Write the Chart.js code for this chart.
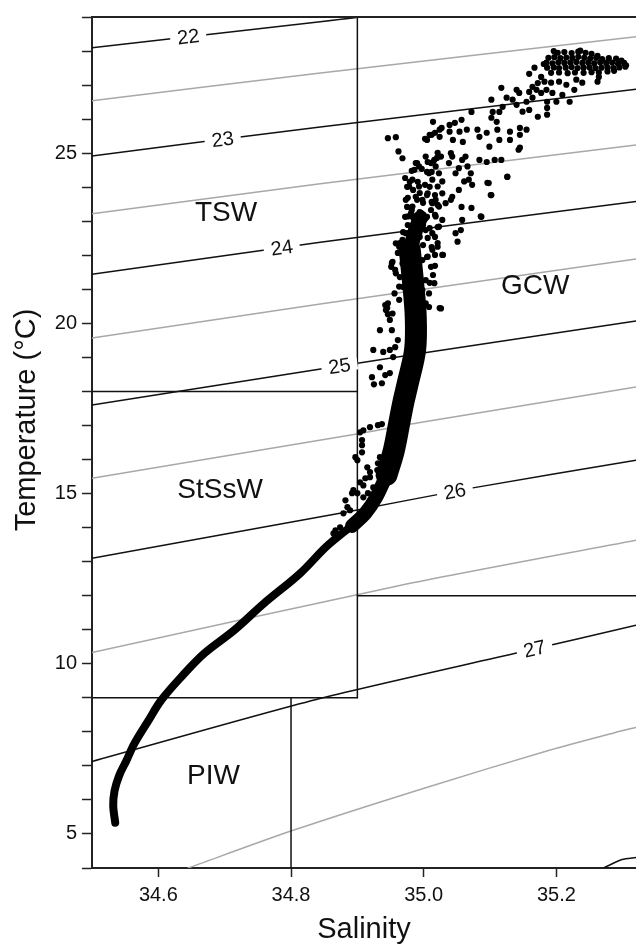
<!DOCTYPE html>
<html>
<head>
<meta charset="utf-8">
<script src="https://cdn.jsdelivr.net/npm/chart.js@4.4.1/dist/chart.umd.min.js"></script>
<style>
  html, body { margin: 0; padding: 0; background: #fff; overflow: hidden; }
  canvas { display: block; }
</style>
</head>
<body>
<canvas id="ts" width="636" height="946"></canvas>
<script>
// axis ticks
const xTickValues = [34.6, 34.8, 35.0, 35.2];
const yTickValues = [4, 5, 6, 7, 8, 9, 10, 11, 12, 13, 14, 15, 16, 17, 18, 19, 20, 21, 22, 23, 24, 25, 26, 27, 28, 29];
const yTickLabels = [5, 10, 15, 20, 25];

// sigma-t isopycnals (salinity, temperature)
const sigmaLevels = [22, 22.5, 23, 23.5, 24, 24.5, 25, 25.5, 26, 26.5, 27, 27.5, 28];
const sigmaSal = [
  [34.5, 34.672, 34.844, 34.903, 34.934],
  [34.5, 34.838, 35.32],
  [34.5, 34.844, 35.32],
  [34.5, 34.844, 35.32],
  [34.5, 34.844, 35.32],
  [34.5, 34.844, 35.32],
  [34.5, 34.835, 35.009, 35.32],
  [34.5, 34.897, 34.990, 35.32],
  [34.5, 34.882, 35.072, 35.32],
  [34.5, 34.964, 35.32],
  [34.5, 34.838, 35.143, 35.32],
  [34.645, 34.802, 35.003, 35.188, 35.289, 35.32],
  [35.271, 35.299, 35.32]
];
const sigmaTemp = [
  [28.10, 28.48, 28.86, 29.00, 29.10],
  [26.54, 27.34, 28.42],
  [24.92, 25.77, 26.88],
  [23.22, 24.10, 25.24],
  [21.44, 22.38, 23.58],
  [19.57, 20.57, 21.89],
  [17.60, 18.63, 19.16, 20.07],
  [15.45, 16.74, 17.07, 18.13],
  [13.10, 14.45, 15.16, 15.98],
  [10.33, 12.30, 13.63],
  [7.13, 8.95, 10.33, 11.13],
  [4.00, 5.10, 6.36, 7.45, 7.98, 8.13],
  [4.00, 4.25, 4.31]
];
const labelLevels = [22, 23, 24, 25, 26, 27];
const labelSal = [34.645, 34.697, 34.786, 34.873, 35.047, 35.167];

// water mass boundaries
const boxSal = [[34.9, 34.9], [34.5, 34.9], [34.5, 34.9], [34.8, 34.8], [34.9, 35.32]];
const boxTemp = [[9, 29], [18, 18], [9, 9], [4, 9], [12, 12]];
const regionNames = ['TSW', 'StSsW', 'PIW', 'GCW'];
const regionSal = [34.702, 34.693, 34.683, 35.168];
const regionTemp = [23.22, 15.09, 6.70, 21.10];

// dense core of the CTD profile
const bandLowSal = [34.535, 34.532, 34.534, 34.541, 34.552, 34.564, 34.585, 34.604, 34.634, 34.669, 34.714, 34.759, 34.814, 34.852, 34.877, 34.895];
const bandLowTemp = [5.33, 5.83, 6.27, 6.72, 7.16, 7.66, 8.33, 8.92, 9.60, 10.30, 10.98, 11.77, 12.66, 13.42, 13.83, 14.10];
const bandJoinSal = [34.892, 34.912, 34.928, 34.942];
const bandJoinTemp = [14.05, 14.42, 14.88, 15.45];
const bandMidSal = [34.944, 34.955, 34.964, 34.970, 34.976, 34.987, 34.988, 34.984, 34.979];
const bandMidTemp = [15.55, 16.27, 17.16, 17.74, 18.24, 19.22, 20.19, 21.19, 22.16];
const bandTopSal = [34.979, 34.987, 34.995];
const bandTopTemp = [22.10, 22.70, 23.10];

// scattered CTD samples [salinity, temperature]
const ctdProfile = [
  // warm surface cluster
  [35.202,27.95],[35.212,27.97],[35.223,27.94],[35.233,27.98],[35.244,27.95],[35.253,27.92],
  [35.188,27.80],[35.197,27.82],[35.206,27.79],[35.215,27.81],[35.224,27.80],[35.233,27.83],[35.242,27.80],[35.251,27.78],[35.260,27.80],[35.269,27.76],[35.279,27.79],[35.290,27.78],
  [35.185,27.66],[35.194,27.64],[35.203,27.67],[35.212,27.65],[35.221,27.66],[35.230,27.68],[35.239,27.65],[35.248,27.66],[35.257,27.64],[35.266,27.67],[35.275,27.65],[35.284,27.66],[35.293,27.63],[35.302,27.65],
  [35.186,27.51],[35.196,27.52],[35.204,27.50],[35.214,27.51],[35.223,27.53],[35.232,27.50],[35.241,27.51],[35.250,27.52],[35.259,27.50],[35.268,27.51],[35.277,27.52],[35.286,27.50],[35.295,27.52],[35.304,27.54],
  [35.192,27.36],[35.204,27.37],[35.217,27.35],[35.228,27.37],[35.241,27.36],[35.253,27.38],[35.264,27.37],[35.277,27.40],[35.287,27.42],
  [35.181,27.62],[35.305,27.58],[35.298,27.72],[35.196,28.00],[35.236,28.01],[35.262,27.86],
  // 23 - 27 degC spread
  [35.159,27.33],[35.167,27.51],[35.177,27.24],[35.172,27.06],[35.164,26.95],[35.182,27.10],[35.192,27.07],[35.204,27.10],[35.215,27.01],[35.230,27.16],[35.239,27.07],[35.264,27.24],[35.262,27.10],
  [35.117,26.92],[35.140,26.86],[35.144,26.77],[35.159,26.80],[35.170,26.86],[35.177,26.77],[35.185,26.86],[35.194,26.77],[35.209,26.71],[35.227,26.86],[35.220,26.51],[35.186,26.51],[35.200,26.51],[35.164,26.63],[35.155,26.51],[35.134,26.57],[35.125,26.63],[35.102,26.57],
  [35.119,26.36],[35.140,26.42],[35.149,26.22],[35.159,26.27],[35.172,26.07],[35.186,26.13],[35.186,26.33],[35.114,26.21],[35.104,26.21],[35.102,26.04],[35.110,25.92],[35.072,26.21],[35.057,25.98],[35.047,25.89],[35.039,25.83],[35.014,25.92],[35.027,25.74],[35.039,25.63],[35.054,25.63],[35.065,25.69],[35.081,25.69],[35.095,25.60],[35.111,25.69],[35.114,25.39],[35.130,25.63],[35.145,25.74],[35.145,25.54],[35.155,25.69],[35.130,25.39],[35.005,25.39],[35.012,25.54],[35.024,25.48],[35.044,25.39],[35.059,25.33],[35.084,25.48],[35.099,25.19],[35.145,25.16],
  [34.946,25.44],[34.958,25.47],[34.962,25.05],[34.968,24.85],
  [35.143,25.10],[35.126,24.31],[35.098,24.12],[35.101,23.77],[35.086,23.14],[35.058,23.04],[35.048,22.65],[35.056,22.74],[35.051,22.40],[35.028,22.01],
  [34.988,24.71],[34.986,24.51],[34.993,24.61],[34.983,24.22],[35.003,24.90],[35.011,24.71],[35.016,24.80],[35.018,24.61],[35.023,24.41],[35.026,24.90],[35.008,24.41],[35.013,24.22],[35.021,24.02],[35.028,24.17],[35.038,24.71],[35.041,25.00],[35.043,24.90],[35.048,24.41],[35.053,24.56],[35.058,24.80],[35.063,24.90],[35.066,24.61],[35.071,24.41],[35.073,24.07],[35.068,24.22],[35.061,24.17],[35.053,23.92],[35.043,23.72],[35.041,23.63],[35.033,23.53],[35.028,23.82],[35.023,23.43],[35.018,23.63],[35.013,23.53],[35.006,23.82],[34.998,23.63],[34.993,24.02],[34.988,23.72],[34.978,24.02],[34.983,23.43],[34.976,23.14],[34.973,23.63],[34.981,23.24],[34.988,23.14],[34.996,23.24],[35.003,23.09],[35.011,23.33],[35.018,23.14],[35.023,22.84],[35.028,23.04],[35.013,22.65],[35.003,22.74],[34.993,22.65],[34.983,22.74],[34.973,22.65],[34.968,22.45],[34.963,22.25],[34.958,22.35],
  [35.002,25.42],[35.009,25.54],[35.017,25.60],[35.024,25.69],[35.006,24.74],[35.014,24.74],[35.020,24.86],[35.021,25.01],[34.990,24.71],[34.982,24.48],[34.997,24.54],[35.005,24.45],[35.012,24.45],[34.972,24.27],[34.979,24.16],[34.991,24.16],[35.002,24.07],[35.009,24.01],[34.975,24.01],[34.984,23.92],[34.994,23.83],[35.005,23.77],[35.017,23.77],[34.976,23.69],[34.990,23.63],[34.999,23.54],[35.012,23.57],[35.021,23.48],[34.975,23.42],[34.982,23.33],[34.994,23.27],[34.972,23.13],[34.984,23.10],[35.005,23.13],[35.017,23.19],[34.976,22.89],[34.990,22.83],[34.999,22.89],[35.009,22.80],[35.021,22.83],[34.969,22.68],[34.982,22.60],[34.994,22.54],[35.006,22.51],[35.017,22.54],[34.964,22.36],[34.975,22.30],[34.987,22.24],[34.999,22.30],[35.012,22.24],[35.021,22.36],[34.961,22.07],[34.975,22.01],[34.987,21.95],[35.005,21.95],[35.017,22.01],
  [35.084,24.80],[35.095,24.74],[35.107,24.80],[35.117,24.80],[35.126,24.30],[35.096,24.13],[35.102,23.77],[35.072,23.39],[35.087,23.13],[35.057,23.42],
  // 20 - 22 degC
  [34.953,21.81],[34.951,21.66],[34.958,21.47],[34.968,21.76],[34.973,22.06],[34.978,21.66],[34.988,22.06],[34.998,21.86],[35.006,21.96],[35.013,22.16],[35.021,22.25],[35.011,21.66],[35.016,21.18],[35.003,21.27],[34.988,21.27],[34.973,21.18],[34.963,21.08],[34.956,20.88],[34.946,20.59],[34.943,20.39],[34.953,20.29],[34.963,20.69],[34.978,20.78],[34.988,20.88],[34.998,20.98],[35.008,20.88],[35.026,20.44],[35.003,20.59],
  // left of the core, 18 - 22 degC
  [34.934,19.80],[34.952,19.80],[34.924,19.22],[34.939,19.16],[34.949,19.22],[34.954,19.01],[34.934,18.71],[34.942,18.48],[34.922,18.42],[34.925,18.21],[34.937,18.24],[34.949,18.54],[34.957,19.30],[34.961,19.51],[34.945,20.45],[34.946,20.27],[34.949,20.10],[34.942,20.54],[34.952,21.77],[34.957,21.57],[34.964,21.36],[34.969,21.07],[35.008,20.48],[35.024,20.45],[35.029,22.01],[35.014,21.42],[35.009,21.19],[35.017,21.69],
  // loops near 34.9, 14 - 17 degC
  [34.904,16.80],[34.909,16.86],[34.919,16.95],[34.931,17.01],[34.937,17.04],[34.907,16.57],[34.907,16.42],[34.907,16.21],[34.897,16.07],[34.900,15.98],[34.915,15.77],[34.919,15.63],[34.912,15.45],[34.904,15.33],[34.909,15.24],[34.919,15.48],[34.894,15.10],[34.892,15.01],[34.882,14.80],[34.885,14.60],[34.889,14.51],[34.879,14.42],[34.867,13.92],[34.864,13.83],[34.874,14.01],[34.931,15.89],[34.930,15.69],[34.934,16.07],[34.916,15.01],[34.909,14.89],[34.900,15.01],[34.924,15.18]
];

const FONT = '"Liberation Sans", Arial, Helvetica, sans-serif';
Chart.defaults.font.family = FONT;

function lineSet(sal, temp, width, color, order, tension) {
  return {
    data: sal.map((s, i) => ({ x: s, y: temp[i] })),
    showLine: true,
    borderColor: color,
    borderWidth: width,
    pointRadius: 0,
    pointHoverRadius: 0,
    tension: tension,
    borderCapStyle: 'round',
    borderJoinStyle: 'round',
    fill: false,
    order: order
  };
}

const datasets = [];
datasets.push({
  data: ctdProfile.map(p => ({ x: p[0], y: p[1] })),
  showLine: false,
  pointRadius: 3.1,
  pointHoverRadius: 3.1,
  pointBackgroundColor: '#000',
  pointBorderWidth: 0,
  order: 0
});
datasets.push(lineSet(bandLowSal, bandLowTemp, 8, '#000', 1, 0.35));
datasets.push(lineSet(bandJoinSal, bandJoinTemp, 14, '#000', 1, 0.3));
datasets.push(lineSet(bandMidSal, bandMidTemp, 22, '#000', 1, 0.35));
datasets.push(lineSet(bandTopSal, bandTopTemp, 15, '#000', 1, 0.3));
boxSal.forEach((s, i) => datasets.push(lineSet(s, boxTemp[i], 1.5, '#111', 2, 0)));
sigmaLevels.forEach((lev, i) => {
  const major = Number.isInteger(lev);
  datasets.push(lineSet(sigmaSal[i], sigmaTemp[i], 1.5, major ? '#111' : '#a8a8a8', 3, 0.25));
});

const annotate = {
  id: 'annotate',
  afterDatasetsDraw(chart) {
    const { ctx, chartArea, scales: { x, y } } = chart;
    ctx.save();
    // top frame line
    ctx.strokeStyle = '#222';
    ctx.lineWidth = 2;
    ctx.beginPath();
    ctx.moveTo(chartArea.left, chartArea.top);
    ctx.lineTo(chartArea.right, chartArea.top);
    ctx.stroke();

    // isopycnal labels
    ctx.font = '20px ' + FONT;
    ctx.textAlign = 'center';
    ctx.textBaseline = 'middle';
    labelLevels.forEach((lev, k) => {
      const i = sigmaLevels.indexOf(lev);
      const sArr = sigmaSal[i], tArr = sigmaTemp[i];
      const s = labelSal[k];
      let j = 0;
      while (j < sArr.length - 2 && sArr[j + 1] < s) j++;
      const f = (s - sArr[j]) / (sArr[j + 1] - sArr[j]);
      const t = tArr[j] + f * (tArr[j + 1] - tArr[j]);
      const px = x.getPixelForValue(s), py = y.getPixelForValue(t);
      const ang = Math.atan2(
        y.getPixelForValue(tArr[j + 1]) - y.getPixelForValue(tArr[j]),
        x.getPixelForValue(sArr[j + 1]) - x.getPixelForValue(sArr[j]));
      const txt = String(lev);
      const w = ctx.measureText(txt).width + 14;
      ctx.save();
      ctx.translate(px, py);
      ctx.rotate(ang);
      ctx.fillStyle = '#fff';
      ctx.fillRect(-w / 2, -6, w, 12);
      ctx.fillStyle = '#111';
      ctx.fillText(txt, 0, 1);
      ctx.restore();
    });

    // water mass names
    ctx.font = '28px ' + FONT;
    ctx.fillStyle = '#111';
    regionNames.forEach((name, i) => {
      ctx.fillText(name, x.getPixelForValue(regionSal[i]), y.getPixelForValue(regionTemp[i]));
    });

    // y axis title, sits a little above the middle of the axis
    ctx.font = '29px ' + FONT;
    ctx.translate(26.5, 420);
    ctx.rotate(-Math.PI / 2);
    ctx.fillText('Temperature (°C)', 0, 0);
    ctx.restore();
  }
};

new Chart(document.getElementById('ts'), {
  type: 'scatter',
  data: { datasets: datasets },
  options: {
    responsive: false,
    animation: false,
    devicePixelRatio: 1,
    layout: { autoPadding: false, padding: { top: 14, right: 0, bottom: 0, left: 0 } },
    plugins: { legend: { display: false }, tooltip: { enabled: false } },
    scales: {
      x: {
        type: 'linear',
        min: 34.5,
        max: 35.32,
        afterBuildTicks: s => { s.ticks = xTickValues.map(v => ({ value: v })); },
        afterFit: s => { s.height = 78; },
        ticks: {
          callback: v => v.toFixed(1),
          font: { size: 20 },
          color: '#111',
          padding: 6,
          autoSkip: false,
          maxRotation: 0
        },
        grid: { drawOnChartArea: false, drawTicks: true, tickLength: 9, tickWidth: 1.5, tickColor: '#222' },
        border: { display: true, color: '#222', width: 2 },
        title: { display: true, text: 'Salinity', color: '#111', font: { size: 29, lineHeight: 1 }, padding: { top: 0, bottom: 2 } }
      },
      y: {
        type: 'linear',
        min: 4,
        max: 29,
        afterBuildTicks: s => { s.ticks = yTickValues.map(v => ({ value: v })); },
        afterFit: s => { s.width = 92; },
        ticks: {
          callback: v => yTickLabels.includes(v) ? String(v) : '',
          font: { size: 20 },
          color: '#111',
          padding: 5,
          autoSkip: false
        },
        grid: { drawOnChartArea: false, drawTicks: true, tickLength: 10, tickWidth: 1.5, tickColor: '#222' },
        border: { display: true, color: '#222', width: 2 },
        title: { display: false }
      }
    }
  },
  plugins: [annotate]
});
</script>
</body>
</html>
